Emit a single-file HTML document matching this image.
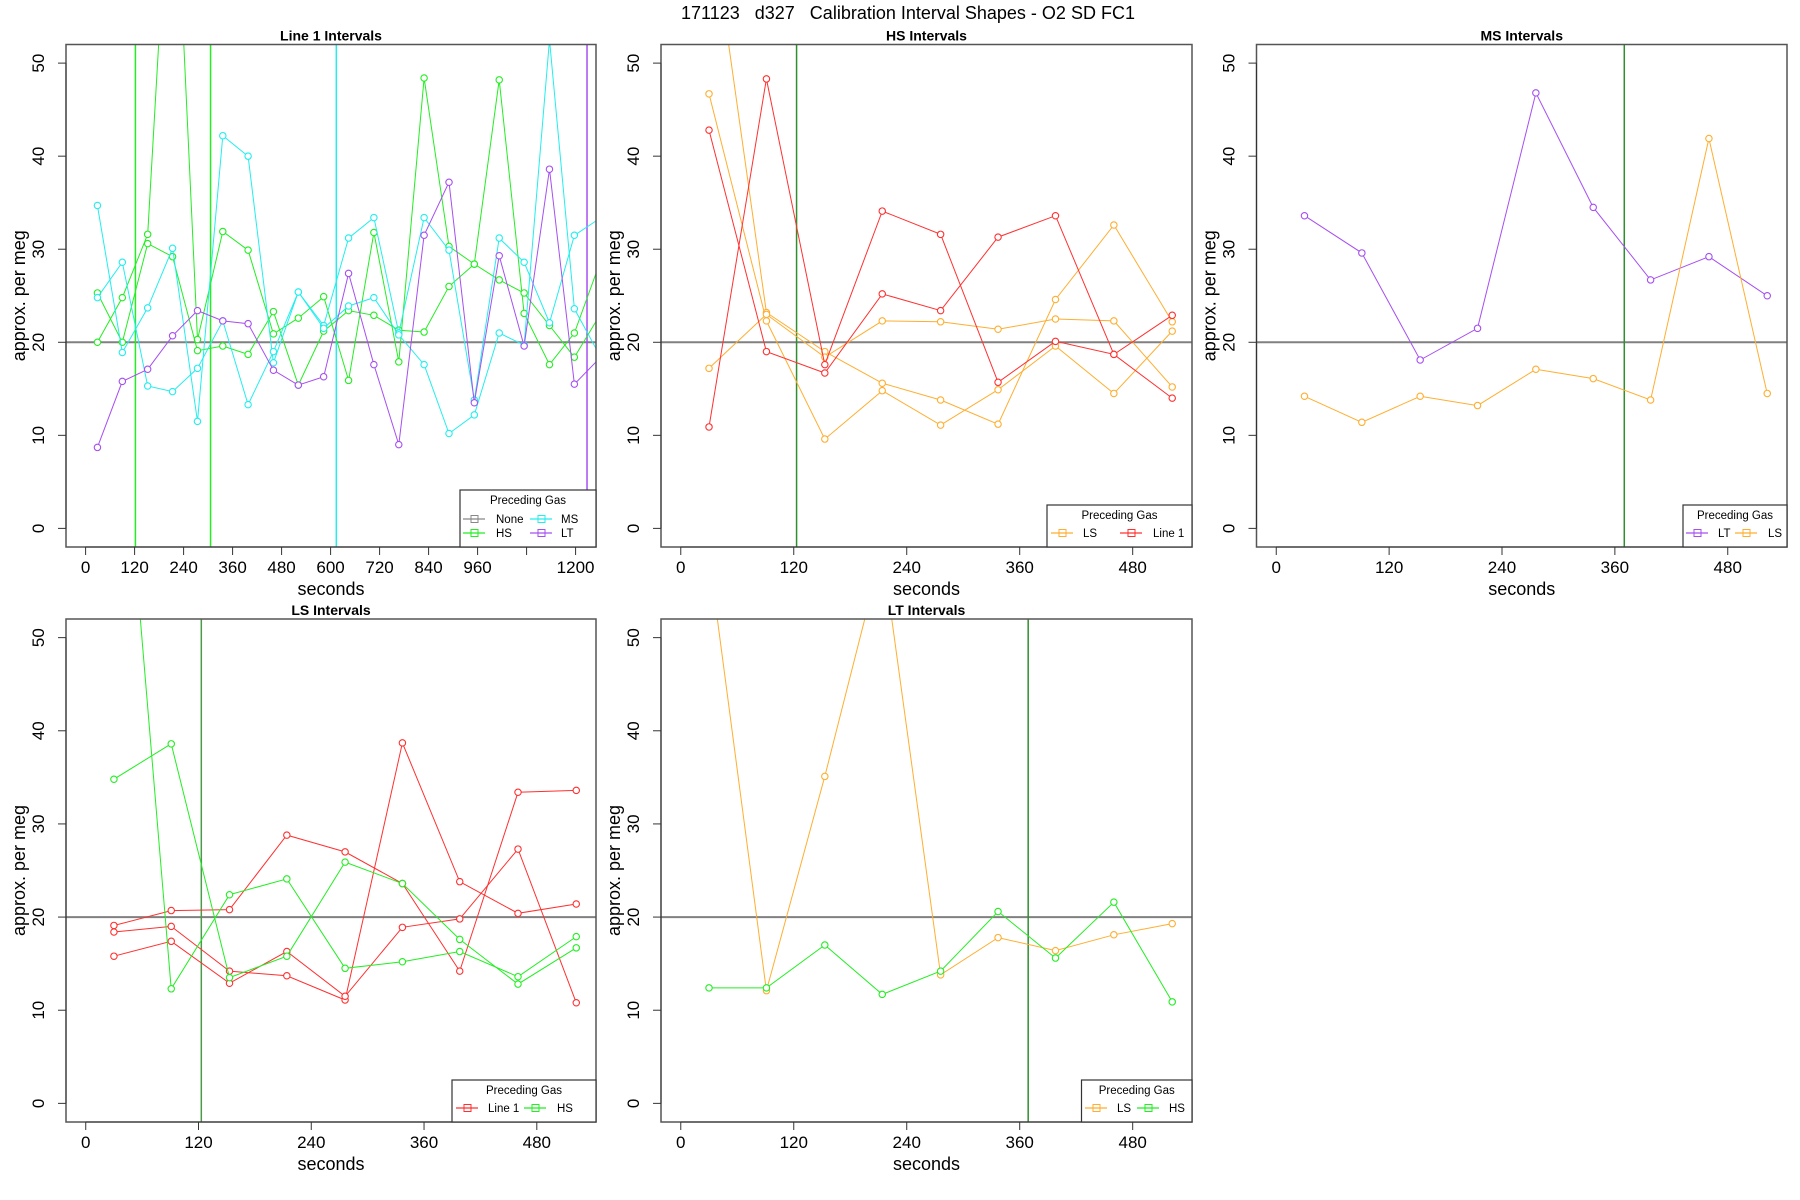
<!DOCTYPE html>
<html><head><meta charset="utf-8"><title>Calibration Interval Shapes</title>
<style>
html,body{margin:0;padding:0;background:#fff;}
svg{display:block;font-family:"Liberation Sans",Arial,sans-serif;}
</style></head>
<body>
<svg id="chart" width="1800" height="1200" viewBox="0 0 1800 1200" xmlns="http://www.w3.org/2000/svg">
<rect x="0" y="0" width="1800" height="1200" fill="#fff"/>
<text x="908" y="19" text-anchor="middle" font-size="18" fill="#000" xml:space="preserve">171123   d327   Calibration Interval Shapes - O2 SD FC1</text>
</svg>
<script>
// ---------- data ----------
const yTicks = [0,10,20,30,40,50];
const p1Ticks = [0,120,240,360,480,600,720,840,960,1080,1200];
const p1TickLabels = ['0','120','240','360','480','600','720','840','960','','1200'];
const pTicks = [0,120,240,360,480];
const pTickLabels = ['0','120','240','360','480'];
const refLevel = 20;

const t1 = [29,90,152,213,274,336,398,460,521,583,644,706,767,829,890,952,1013,1074,1136,1197,1259];
const t2 = [30,91,153,214,276,337,398,460,522];

// Panel 1: Line 1 intervals
const p1HS_a = [20.0,24.8,31.6,78,20.3,31.9,29.9,20.9,22.6,24.9,15.9,31.8,17.9,48.4,30.3,28.4,48.2,23.1,17.6,21.0,28.5];
const p1HS_b = [25.3,20.0,30.6,29.2,19.1,19.6,18.7,23.3,15.4,21.2,23.4,22.9,21.3,21.1,26.0,28.4,26.7,25.3,21.8,18.4,22.9];
const p1MS_a = [34.7,18.9,23.7,30.1,11.5,42.2,40.0,17.8,25.4,21.8,31.2,33.4,21.0,33.4,29.9,13.8,31.2,28.6,22.1,31.5,33.3];
const p1MS_b = [24.8,28.6,15.3,14.7,17.2,22.3,13.3,19.0,25.4,21.5,23.9,24.8,20.8,17.6,10.2,12.2,21.0,19.7,52.5,23.6,18.6];
const p1LT = [8.7,15.8,17.1,20.7,23.4,22.3,22.0,17.0,15.4,16.3,27.4,17.6,9.0,31.5,37.2,13.5,29.3,19.6,38.6,15.5,18.3];
const p1VlinesGreen = [122,306];
const p1VlinesCyan = [614];
const p1VlinesPurple = [1228];

// Panel 2: HS intervals
const p2LS_a = [67,23.2,19.0,15.6,13.8,11.2,24.6,32.6,22.2];
const p2LS_b = [46.7,22.3,9.6,14.8,11.1,14.9,19.6,14.5,21.2];
const p2LS_c = [17.2,23.0,18.4,22.3,22.2,21.4,22.5,22.3,15.2];
const p2L1_a = [42.8,19.0,16.7,25.2,23.4,31.3,33.6,18.7,14.0];
const p2L1_b = [10.9,48.3,17.6,34.1,31.6,15.7,20.1,18.7,22.9];
const p2Vlines = [123];

// Panel 3: MS intervals
const p3LT = [33.6,29.6,18.1,21.5,46.8,34.5,26.7,29.2,25.0];
const p3LS = [14.2,11.4,14.2,13.2,17.1,16.1,13.8,41.9,14.5];
const p3Vlines = [370];

// Panel 4: LS intervals
const p4L1_a = [19.1,20.7,20.8,28.8,27.0,23.6,14.2,33.4,33.6];
const p4L1_b = [18.4,19.0,14.2,13.7,11.1,38.7,23.8,20.4,21.4];
const p4L1_c = [15.8,17.4,12.9,16.3,11.5,18.9,19.8,27.3,10.8];
const p4HS_a = [34.8,38.6,13.5,15.8,25.9,23.6,17.6,12.8,16.7];
const p4HS_b = [86,12.3,22.4,24.1,14.5,15.2,16.3,13.6,17.9];
const p4Vlines = [123];

// Panel 5: LT intervals
const p5LS = [58.8,12.1,35.1,59.4,13.8,17.8,16.4,18.1,19.3];
const p5HS = [12.4,12.4,17.0,11.7,14.2,20.6,15.6,21.6,10.9];
const p5Vlines = [369];

// ---------- drawing ----------
const NS = 'http://www.w3.org/2000/svg';
const svg = document.getElementById('chart');
const C = {green:'#22ee22', cyan:'#22eeee', purple:'#a64ff0', orange:'#ffae30', red:'#ff3030', dkgreen:'#2f8f2f', gray:'#888888'};
function mk(tag, attrs, parent){
  const e = document.createElementNS(NS, tag);
  for (const k in attrs) e.setAttribute(k, attrs[k]);
  (parent||svg).appendChild(e);
  return e;
}
let clipId = 0;
function panel(cfg){
  const g = mk('g', {});
  
  
  const L=cfg.box[0], T=cfg.box[1], R=cfg.box[2], B=cfg.box[3];
  const sx = v => L + (v - cfg.xlim[0])/(cfg.xlim[1]-cfg.xlim[0])*(R-L);
  const sy = v => B - (v - (-2))/(52-(-2))*(B-T);
  const cid = 'clip'+(clipId++);
  const cp = mk('clipPath', {id:cid}, g);
  mk('rect', {x:L, y:T, width:R-L, height:B-T}, cp);
  const plot = mk('g', {'clip-path':'url(#'+cid+')'}, g);
  const hl = mk('line', {x1:L, x2:R, y1:sy(refLevel), y2:sy(refLevel), stroke:'#808080', 'stroke-width':2}, plot);
  
  
  cfg.vlines.forEach(v => {
    const l = mk('line', {x1:sx(v[0]), x2:sx(v[0]), y1:T, y2:B, stroke:v[1], 'stroke-width':1.5}, plot);
    
    
  });
  cfg.series.forEach(s => {
    const pts = s.y.map((v,i) => sx(s.x[i]).toFixed(1)+','+sy(v).toFixed(1)).join(' ');
    const pl = mk('polyline', {points:pts, fill:'none', stroke:s.color, 'stroke-width':1}, plot);
    
    
    s.y.forEach((v,i) => {
      const c = mk('circle', {cx:sx(s.x[i]), cy:sy(v), r:3.2, fill:'#fff', stroke:s.color, 'stroke-width':1.1}, plot);
      
      
    });
  });
  const bx = mk('rect', {x:L, y:T, width:R-L, height:B-T, fill:'none', stroke:'#555', 'stroke-width':1.5}, g);
  
  
  const ya = mk('g', {}, g);
  
  
  mk('line', {x1:L, x2:L, y1:sy(yTicks[0]), y2:sy(yTicks[yTicks.length-1]), stroke:'#333', 'stroke-width':1}, ya);
  yTicks.forEach(v => {
    mk('line', {x1:L-8, x2:L, y1:sy(v), y2:sy(v), stroke:'#333', 'stroke-width':1}, ya);
    const t = mk('text', {x:0, y:0, 'text-anchor':'middle', 'font-size':17, fill:'#000',
      transform:'translate('+(L-22)+','+sy(v)+') rotate(-90)'}, ya);
    t.textContent = v;
  });
  const yt = mk('text', {x:0, y:0, 'text-anchor':'middle', 'font-size':18, fill:'#000',
    transform:'translate('+(L-41)+','+((T+B)/2)+') rotate(-90)'}, g);
  
  
  yt.textContent = 'approx. per meg';
  const xa = mk('g', {}, g);
  
  
  mk('line', {x1:sx(cfg.xticks[0]), x2:sx(cfg.xticks[cfg.xticks.length-1]), y1:B, y2:B, stroke:'#333', 'stroke-width':1}, xa);
  cfg.xticks.forEach((v,i) => {
    mk('line', {x1:sx(v), x2:sx(v), y1:B, y2:B+8, stroke:'#333', 'stroke-width':1}, xa);
    const t = mk('text', {x:sx(v), y:B+26, 'text-anchor':'middle', 'font-size':17, fill:'#000'}, xa);
    t.textContent = cfg.xlabels[i];
  });
  const xt = mk('text', {x:(L+R)/2, y:B+48, 'text-anchor':'middle', 'font-size':18, fill:'#000'}, g);
  
  
  xt.textContent = 'seconds';
  const ti = mk('text', {x:(L+R)/2, y:T-4, 'text-anchor':'middle', 'font-size':14, 'font-weight':'bold', fill:'#000'}, g);
  
  
  ti.textContent = cfg.title;
  const lg = mk('g', {}, g);
  
  
  const lb = cfg.legend;
  mk('rect', {x:lb.x, y:lb.y, width:R-lb.x, height:B-lb.y, fill:'#fff', stroke:'#333', 'stroke-width':1.2}, lg);
  const tt = mk('text', {x:(lb.x+R)/2, y:lb.y+14, 'text-anchor':'middle', 'font-size':11.5, fill:'#000'}, lg);
  tt.textContent = 'Preceding Gas';
  lb.items.forEach(it => {
    const en = mk('g', {}, lg);
    
    
    mk('line', {x1:it.lx, x2:it.lx+22, y1:it.y, y2:it.y, stroke:it.color, 'stroke-width':1.2}, en);
    mk('rect', {x:it.lx+8, y:it.y-3.5, width:7, height:7, fill:'none', stroke:it.color, 'stroke-width':1}, en);
    const tx = mk('text', {x:it.tx, y:it.y+4, 'font-size':11.5, fill:'#000'}, en);
    tx.textContent = it.label;
  });
}

panel({name:'panel-line1-intervals', title:'Line 1 Intervals', box:[66,44.5,596,547], xlim:[-48,1250],
  xticks:p1Ticks, xlabels:p1TickLabels,
  vlines:[[p1VlinesGreen[0],C.green],[p1VlinesGreen[1],C.green],[p1VlinesCyan[0],C.cyan],[p1VlinesPurple[0],C.purple]],
  series:[
    {name:'line1-hs-a', x:t1, y:p1HS_a, color:C.green},
    {name:'line1-hs-b', x:t1, y:p1HS_b, color:C.green},
    {name:'line1-ms-a', x:t1, y:p1MS_a, color:C.cyan},
    {name:'line1-ms-b', x:t1, y:p1MS_b, color:C.cyan},
    {name:'line1-lt', x:t1, y:p1LT, color:C.purple}],
  legend:{x:460, y:490, items:[
    {label:'None', color:C.gray, lx:463, tx:496, y:519},
    {label:'HS', color:C.green, lx:463, tx:496, y:533},
    {label:'MS', color:C.cyan, lx:530, tx:561, y:519},
    {label:'LT', color:C.purple, lx:530, tx:561, y:533}]}
});
panel({name:'panel-hs-intervals', title:'HS Intervals', box:[661,44.5,1192,547], xlim:[-21,543],
  xticks:pTicks, xlabels:pTickLabels, vlines:[[p2Vlines[0],C.dkgreen]],
  series:[
    {name:'hs-ls-a', x:t2, y:p2LS_a, color:C.orange},
    {name:'hs-ls-b', x:t2, y:p2LS_b, color:C.orange},
    {name:'hs-ls-c', x:t2, y:p2LS_c, color:C.orange},
    {name:'hs-line1-a', x:t2, y:p2L1_a, color:C.red},
    {name:'hs-line1-b', x:t2, y:p2L1_b, color:C.red}],
  legend:{x:1047, y:505, items:[
    {label:'LS', color:C.orange, lx:1051, tx:1083, y:533},
    {label:'Line 1', color:C.red, lx:1120, tx:1153, y:533}]}
});
panel({name:'panel-ms-intervals', title:'MS Intervals', box:[1256.5,44.5,1787,547], xlim:[-21,543],
  xticks:pTicks, xlabels:pTickLabels, vlines:[[p3Vlines[0],C.dkgreen]],
  series:[
    {name:'ms-lt', x:t2, y:p3LT, color:C.purple},
    {name:'ms-ls', x:t2, y:p3LS, color:C.orange}],
  legend:{x:1683, y:505, items:[
    {label:'LT', color:C.purple, lx:1686, tx:1718, y:533},
    {label:'LS', color:C.orange, lx:1735, tx:1768, y:533}]}
});
panel({name:'panel-ls-intervals', title:'LS Intervals', box:[66,619,596,1122], xlim:[-21,543],
  xticks:pTicks, xlabels:pTickLabels, vlines:[[p4Vlines[0],'#4c9a4c']],
  series:[
    {name:'ls-line1-a', x:t2, y:p4L1_a, color:C.red},
    {name:'ls-line1-b', x:t2, y:p4L1_b, color:C.red},
    {name:'ls-line1-c', x:t2, y:p4L1_c, color:C.red},
    {name:'ls-hs-a', x:t2, y:p4HS_a, color:C.green},
    {name:'ls-hs-b', x:t2, y:p4HS_b, color:C.green}],
  legend:{x:452, y:1080, items:[
    {label:'Line 1', color:C.red, lx:456, tx:488, y:1108},
    {label:'HS', color:C.green, lx:524, tx:557, y:1108}]}
});
panel({name:'panel-lt-intervals', title:'LT Intervals', box:[661,619,1192,1122], xlim:[-21,543],
  xticks:pTicks, xlabels:pTickLabels, vlines:[[p5Vlines[0],C.dkgreen]],
  series:[
    {name:'lt-ls', x:t2, y:p5LS, color:C.orange},
    {name:'lt-hs', x:t2, y:p5HS, color:C.green}],
  legend:{x:1081.5, y:1080, items:[
    {label:'LS', color:C.orange, lx:1085, tx:1117, y:1108},
    {label:'HS', color:C.green, lx:1137, tx:1169, y:1108}]}
});
</script>
</body></html>
